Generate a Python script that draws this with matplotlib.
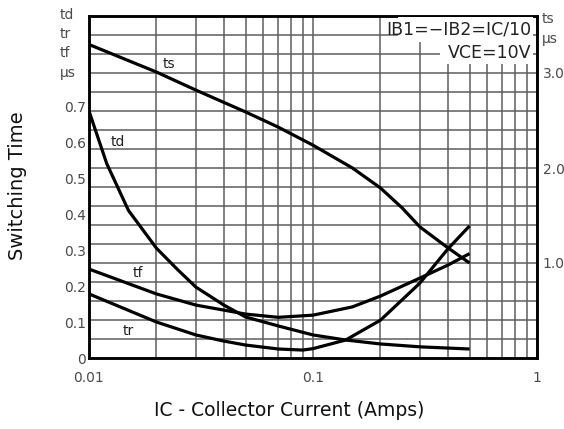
"""Switching time vs collector current (datasheet style chart)."""

import numpy as np
import matplotlib
matplotlib.use("Agg")
import matplotlib.pyplot as plt
from matplotlib.patches import Rectangle

# collector current (A)
ic_td = [0.01, 0.012, 0.015, 0.02, 0.025, 0.03, 0.04, 0.05, 0.07, 0.1, 0.14, 0.2, 0.3, 0.5]
td = [0.686, 0.54, 0.41, 0.305, 0.244, 0.197, 0.147, 0.114, 0.089, 0.064, 0.05, 0.039, 0.031, 0.025]

ic_tf = [0.01, 0.02, 0.03, 0.04, 0.05, 0.07, 0.1, 0.15, 0.2, 0.3, 0.4, 0.5]
tf = [0.247, 0.178, 0.147, 0.133, 0.122, 0.113, 0.119, 0.142, 0.172, 0.222, 0.258, 0.29]

ic_tr = [0.01, 0.02, 0.03, 0.04, 0.05, 0.07, 0.09, 0.1, 0.14, 0.2, 0.3, 0.4, 0.5]
tr = [0.178, 0.10, 0.064, 0.047, 0.036, 0.025, 0.022, 0.026, 0.05, 0.105, 0.208, 0.303, 0.367]

ic_ts = [0.01, 0.02, 0.03, 0.05, 0.07, 0.1, 0.15, 0.2, 0.25, 0.3, 0.4, 0.5]
ts = [3.30, 3.01, 2.82, 2.59, 2.43, 2.24, 2.00, 1.79, 1.58, 1.38, 1.16, 1.00]

left_ticks = [0, 0.1, 0.2, 0.3, 0.4, 0.5, 0.6, 0.7]
left_labels = ["0", "0.1", "0.2", "0.3", "0.4", "0.5", "0.6", "0.7"]
right_ticks = [1.0, 2.0, 3.0]
right_labels = ["1.0", "2.0", "3.0"]

W, H = 564, 429
LEFT_MAX = 0.95
RIGHT_MAX = 3.6
GRID_N = 18

LINE = dict(color="black", lw=2.3, solid_capstyle="butt")
GRID_C = "#5e5e5e"
TICK_C = "#4a4a4a"


def px(x, y):
    return x / W, 1 - y / H


fig = plt.figure(figsize=(W / 100, H / 100), dpi=100)
fig.set_facecolor("white")
ax = fig.add_axes([89 / W, 1 - 358 / H, (537 - 89) / W, (358 - 16) / H])
ax2 = ax.twinx()

ax.set_xscale("log")
ax.set_xlim(0.01, 1)
ax.set_ylim(0, LEFT_MAX)
ax2.set_ylim(0, RIGHT_MAX)

# grid
ax.set_xticks([0.01, 0.1, 1])
ax.set_xticklabels(["0.01", "0.1", "1"])
ax.set_yticks(left_ticks)
ax.set_yticklabels(left_labels)
ax.set_yticks(np.arange(GRID_N + 1) * LEFT_MAX / GRID_N, minor=True)
ax.grid(which="both", axis="x", color=GRID_C, lw=1.1)
ax.grid(which="minor", axis="y", color=GRID_C, lw=1.1)
ax.grid(which="major", axis="y", visible=False)
ax.tick_params(which="both", length=0, colors=TICK_C, labelsize=10)
ax.tick_params(axis="x", pad=9)
ax.tick_params(axis="y", pad=2)
ax.set_axisbelow(True)

ax2.set_yticks(right_ticks)
ax2.set_yticklabels(right_labels)
ax2.tick_params(length=0, colors=TICK_C, labelsize=10, pad=4)

for a in (ax, ax2):
    for s in a.spines.values():
        s.set_color("black")
        s.set_linewidth(1.8)

ax.plot(ic_td, td, **LINE)
ax.plot(ic_tf, tf, **LINE)
ax.plot(ic_tr, tr, **LINE)
ax2.plot(ic_ts, ts, **LINE)

# curve labels
ax2.text(0.0228, 3.10, "ts", fontsize=10, color="#222222", ha="center", va="center")
ax.text(0.0135, 0.60, "td", fontsize=10, color="#222222", ha="center", va="center")
ax.text(0.0165, 0.235, "tf", fontsize=10, color="#222222", ha="center", va="center")
ax.text(0.015, 0.075, "tr", fontsize=10, color="#222222", ha="center", va="center")

# condition box (covers grid like the original)
ax2.add_patch(Rectangle(px(398, 17), (533 - 398) / W, -(42 - 17) / H,
                        transform=fig.transFigure, facecolor="white",
                        edgecolor="none", zorder=3))
ax2.add_patch(Rectangle(px(440, 42), (533 - 440) / W, -(64 - 42) / H,
                        transform=fig.transFigure, facecolor="white",
                        edgecolor="none", zorder=3))
fig.text(*px(531, 29), "IB1=\u2212IB2=IC/10", fontsize=12.5, color="#222222",
         ha="right", va="center", zorder=4)
fig.text(*px(531, 53), "VCE=10V", fontsize=12.5, color="#222222",
         ha="right", va="center", zorder=4)

# unit labels
for y, t in zip([15, 34, 53, 73], ["td", "tr", "tf", "\u03bcs"]):
    fig.text(*px(60, y), t, fontsize=10, color=TICK_C, ha="left", va="center")
for y, t in zip([19, 39], ["ts", "\u03bcs"]):
    fig.text(*px(542, y), t, fontsize=10, color=TICK_C, ha="left", va="center")

fig.text(*px(18, 186), "Switching Time", fontsize=14, rotation=90,
         ha="center", va="center", color="#111111")
fig.text(*px(289, 410), "IC - Collector Current (Amps)", fontsize=13.5,
         ha="center", va="center", color="#111111")

fig.savefig("out.png", dpi=100)
